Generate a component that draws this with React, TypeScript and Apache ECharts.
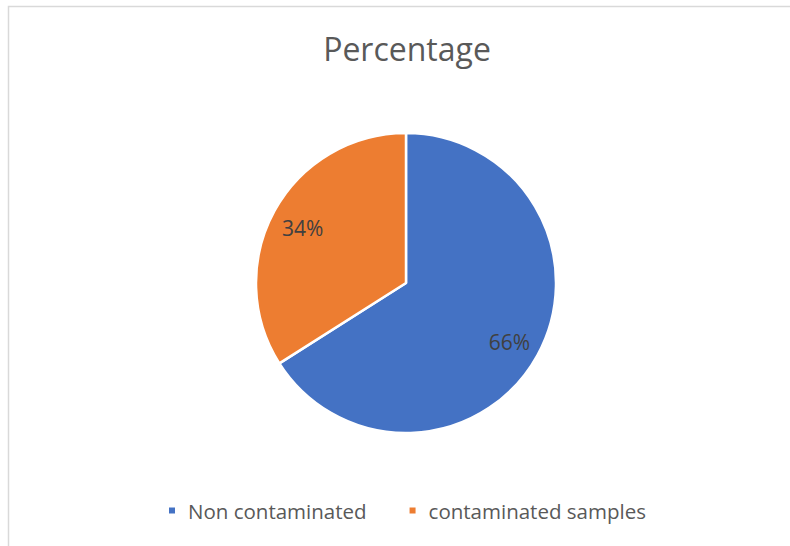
import React, { useEffect, useRef } from "react";
import * as echarts from "echarts";

const titleText = "Percentage";
const categories = ["Non contaminated", "contaminated samples"];
const values = [66, 34];
const colors = ["#4472C4", "#ED7D31"];

export default function App() {
  const ref = useRef<HTMLDivElement>(null);
  useEffect(() => {
    if (!ref.current) return;
    const chart = echarts.init(ref.current, undefined, { renderer: "svg" });
    const data = categories.map((name, i) => ({
      name,
      value: values[i],
      itemStyle: { color: colors[i] },
    }));
    chart.setOption({
      animation: false,
      backgroundColor: "#ffffff",
      title: {
        text: titleText,
        left: 402,
        top: 27,
        textAlign: "center",
        textStyle: {
          fontFamily: "Open Sans",
          fontSize: 32,
          fontWeight: "normal",
          color: "#595959",
        },
      },
      legend: {
        data: categories,
        bottom: 20,
        left: 162,
        icon: "rect",
        itemWidth: 8,
        itemHeight: 8,
        itemGap: 41,
        textStyle: {
          fontFamily: "Open Sans",
          fontSize: 20.5,
          color: "#595959",
          padding: [0, 0, 0, 7],
        },
      },
      graphic: [
        {
          type: "rect",
          shape: { x: 8.5, y: 6.5, width: 820, height: 600 },
          style: { fill: "none", stroke: "#d9d9d9", lineWidth: 1.5 },
          silent: true,
        },
      ],
      series: [
        {
          type: "pie",
          center: [406, 283],
          radius: [0, 150],
          startAngle: 90,
          clockwise: true,
          label: { show: false },
          labelLine: { show: false },
          itemStyle: { borderColor: "#ffffff", borderWidth: 2.5 },
          emphasis: { disabled: true },
          data,
        },
        {
          type: "pie",
          center: [406, 285],
          radius: [80, 150],
          startAngle: 90,
          clockwise: true,
          silent: true,
          label: {
            show: true,
            position: "inside",
            formatter: (p: any) => `${p.value}%`,
            fontFamily: "Open Sans",
            fontSize: 21,
            color: "#404040",
          },
          labelLine: { show: false },
          itemStyle: { color: "rgba(0,0,0,0)", borderWidth: 0 },
          emphasis: { disabled: true },
          legendHoverLink: false,
          data: categories.map((name, i) => ({ name: name + " ", value: values[i] })),
        },
      ],
    });
    return () => chart.dispose();
  }, []);
  return (
    <div
      ref={ref}
      style={{ position: "fixed", left: 0, top: 0, width: 790, height: 546 }}
    />
  );
}
